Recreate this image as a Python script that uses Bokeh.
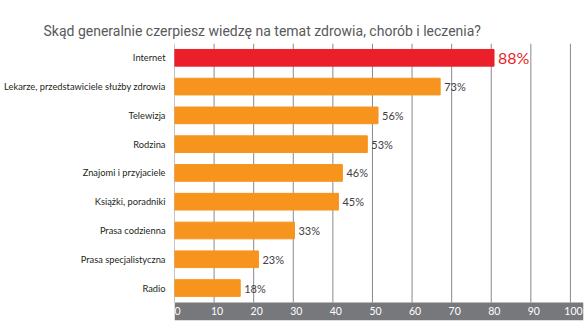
from bokeh.plotting import figure
from bokeh.models import Range1d, FixedTicker, ColumnDataSource
from bokeh.core.properties import value
from bokeh.embed import file_html
from bokeh.resources import INLINE

title = "Skąd generalnie czerpiesz wiedzę na temat zdrowia, chorób i leczenia?"
categories = ["Internet", "Lekarze, przedstawiciele służby zdrowia", "Telewizja", "Rodzina",
              "Znajomi i przyjaciele", "Książki, poradniki", "Prasa codzienna",
              "Prasa specjalistyczna", "Radio"]
# percentages printed next to bars
percent = [88, 73, 56, 53, 46, 45, 33, 23, 18]
# bar lengths as drawn against the printed axis
bar_length = [80.7, 67.1, 51.4, 48.7, 42.4, 41.4, 30.3, 21.2, 16.6]
bar_colors = ["#ea1f2a"] + ["#f7941e"] * 8
axis_ticks = [0, 10, 20, 30, 40, 50, 60, 70, 80, 90, 100]

FONT = "Lato"

p = figure(width=588, height=328, output_backend="svg", toolbar_location=None,
           x_range=Range1d(0, 103.3), y_range=Range1d(9.128, -0.497),
           min_border_left=174, min_border_right=5, min_border_top=43, min_border_bottom=8)
p.outline_line_color = None
p.xgrid.visible = False
p.ygrid.visible = False
p.xaxis.visible = False

p.title.text = title
p.title.text_font = "Roboto"
p.title.text_font_size = "14px"
p.title.text_font_style = "normal"
p.title.text_color = "#58595b"
p.title.align = "left"
p.title.offset = -131

ya = p.yaxis[0]
ya.ticker = FixedTicker(ticks=list(range(len(categories))))
ya.major_label_overrides = {i: c for i, c in enumerate(categories)}
ya.axis_line_color = None
ya.major_tick_line_color = None
ya.major_tick_out = 0
ya.major_tick_in = 0
ya.minor_tick_line_color = None
ya.major_label_standoff = 9
ya.major_label_text_font = FONT
ya.major_label_text_font_size = "9.3px"
ya.major_label_text_color = "#231f20"

ypos = list(range(len(categories)))

# gridlines
p.segment(x0=axis_ticks, x1=axis_ticks, y0=[-0.497] * len(axis_ticks), y1=[8.5] * len(axis_ticks),
          line_color="#8a8a8c", line_width=1)

src = ColumnDataSource(dict(y=ypos, right=bar_length, color=bar_colors))
p.hbar(y="y", left=0, right="right", height=0.58, color="color", source=src)

# axis band
p.quad(left=[0], right=[103.3], top=[8.5], bottom=[9.128], color="#77787b", line_color=None)
p.text(x=axis_ticks, y=[8.814] * len(axis_ticks), text=[str(t) for t in axis_ticks],
       text_color="white", text_font=value(FONT), text_font_size="10.5px",
       text_baseline="middle", text_align="center", x_offset=3)

# value labels
rest = dict(x=bar_length[1:], y=ypos[1:], t=[f"{v}%" for v in percent[1:]])
p.text(x="x", y="y", text="t", source=ColumnDataSource(rest), text_color="#414042",
       text_font=value(FONT), text_font_size="11px", text_baseline="middle", x_offset=4)
p.text(x=[bar_length[0]], y=[ypos[0]], text=[f"{percent[0]}%"], text_color="#ea1f2a",
       text_font=value(FONT), text_font_size="16px", text_baseline="middle", x_offset=4)

open("out.html", "w").write(file_html(p, INLINE))
